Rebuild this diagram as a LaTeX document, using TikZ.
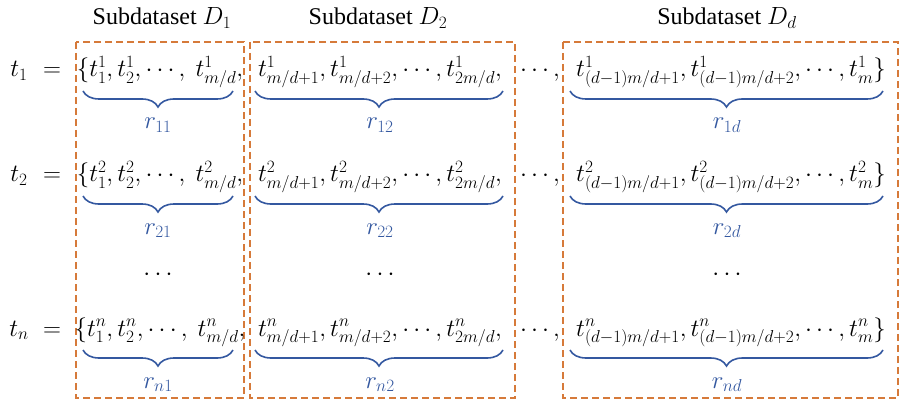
\documentclass[tikz,border=0pt]{standalone}
\usepackage{fontspec}
\setmainfont{Liberation Serif}
\usetikzlibrary{positioning,decorations.pathreplacing}
\definecolor{boxorange}{RGB}{214,122,58}
\definecolor{braceblue}{RGB}{52,88,160}

\begin{document}
\begin{tikzpicture}[x=1pt,y=-1pt,font=\fontsize{24}{29}\selectfont]
  \tikzset{
    subset/.style={
      draw=boxorange,
      line width=1.4pt,
      dash pattern=on 7pt off 4pt
    },
    entry/.style={anchor=base, inner sep=0pt},
    group/.style={
      decorate,
      decoration={brace, mirror, amplitude=16pt},
      draw=braceblue,
      line width=1.6pt
    },
    glabel/.style={anchor=base, inner sep=0pt, text=braceblue}
  }
  \useasboundingbox (0,0) rectangle (905,401);

  \draw[subset] (76,42) rectangle (244,398);
  \draw[subset] (250,42) rectangle (515,398);
  \draw[subset] (563,42) rectangle (898,398);

  \node[entry] (sub1) at (162,25) {Subdataset $D_1$};
  \node[entry] (sub2) at (378,25) {Subdataset $D_2$};
  \node[entry] (subd) at (727,25) {Subdataset $D_d$};

  \foreach \y/\i in {77/1, 182/2, 336/n} {
    \node[entry] (t\i) at (19,\y) {$t_{\i}$};
    \node[entry] (eq\i) at (52,\y) {$=$};
    \node[entry] (a\i) at (160,\y) {$\{t_1^{\i}, t_2^{\i}, \cdots,\ t_{m/d}^{\i},$};
    \node[entry] (b\i) at (380,\y) {$t^{\i}_{m/d+1}, t^{\i}_{m/d+2}, \cdots, t^{\i}_{2m/d},$};
    \node[entry] (mid\i) at (540,\y) {$\cdots,$};
    \node[entry] (c\i) at (731,\y) {$t^{\i}_{(d-1)m/d+1}, t^{\i}_{(d-1)m/d+2}, \cdots, t^{\i}_{m}\}$};

    \draw[group] (83,\y+14) -- (233,\y+14);
    \draw[group] (255,\y+14) -- (503,\y+14);
    \draw[group] (570,\y+14) -- (883,\y+14);
    \node[glabel] (r\i1) at (158,\y+52) {$r_{\i1}$};
    \node[glabel] (r\i2) at (380,\y+52) {$r_{\i2}$};
    \node[glabel] (r\i d) at (727,\y+52) {$r_{\i d}$};
  }

  \node (dots1) at (158,275) {$\cdots$};
  \node (dots2) at (380,275) {$\cdots$};
  \node (dotsd) at (727,275) {$\cdots$};
\end{tikzpicture}
\end{document}
